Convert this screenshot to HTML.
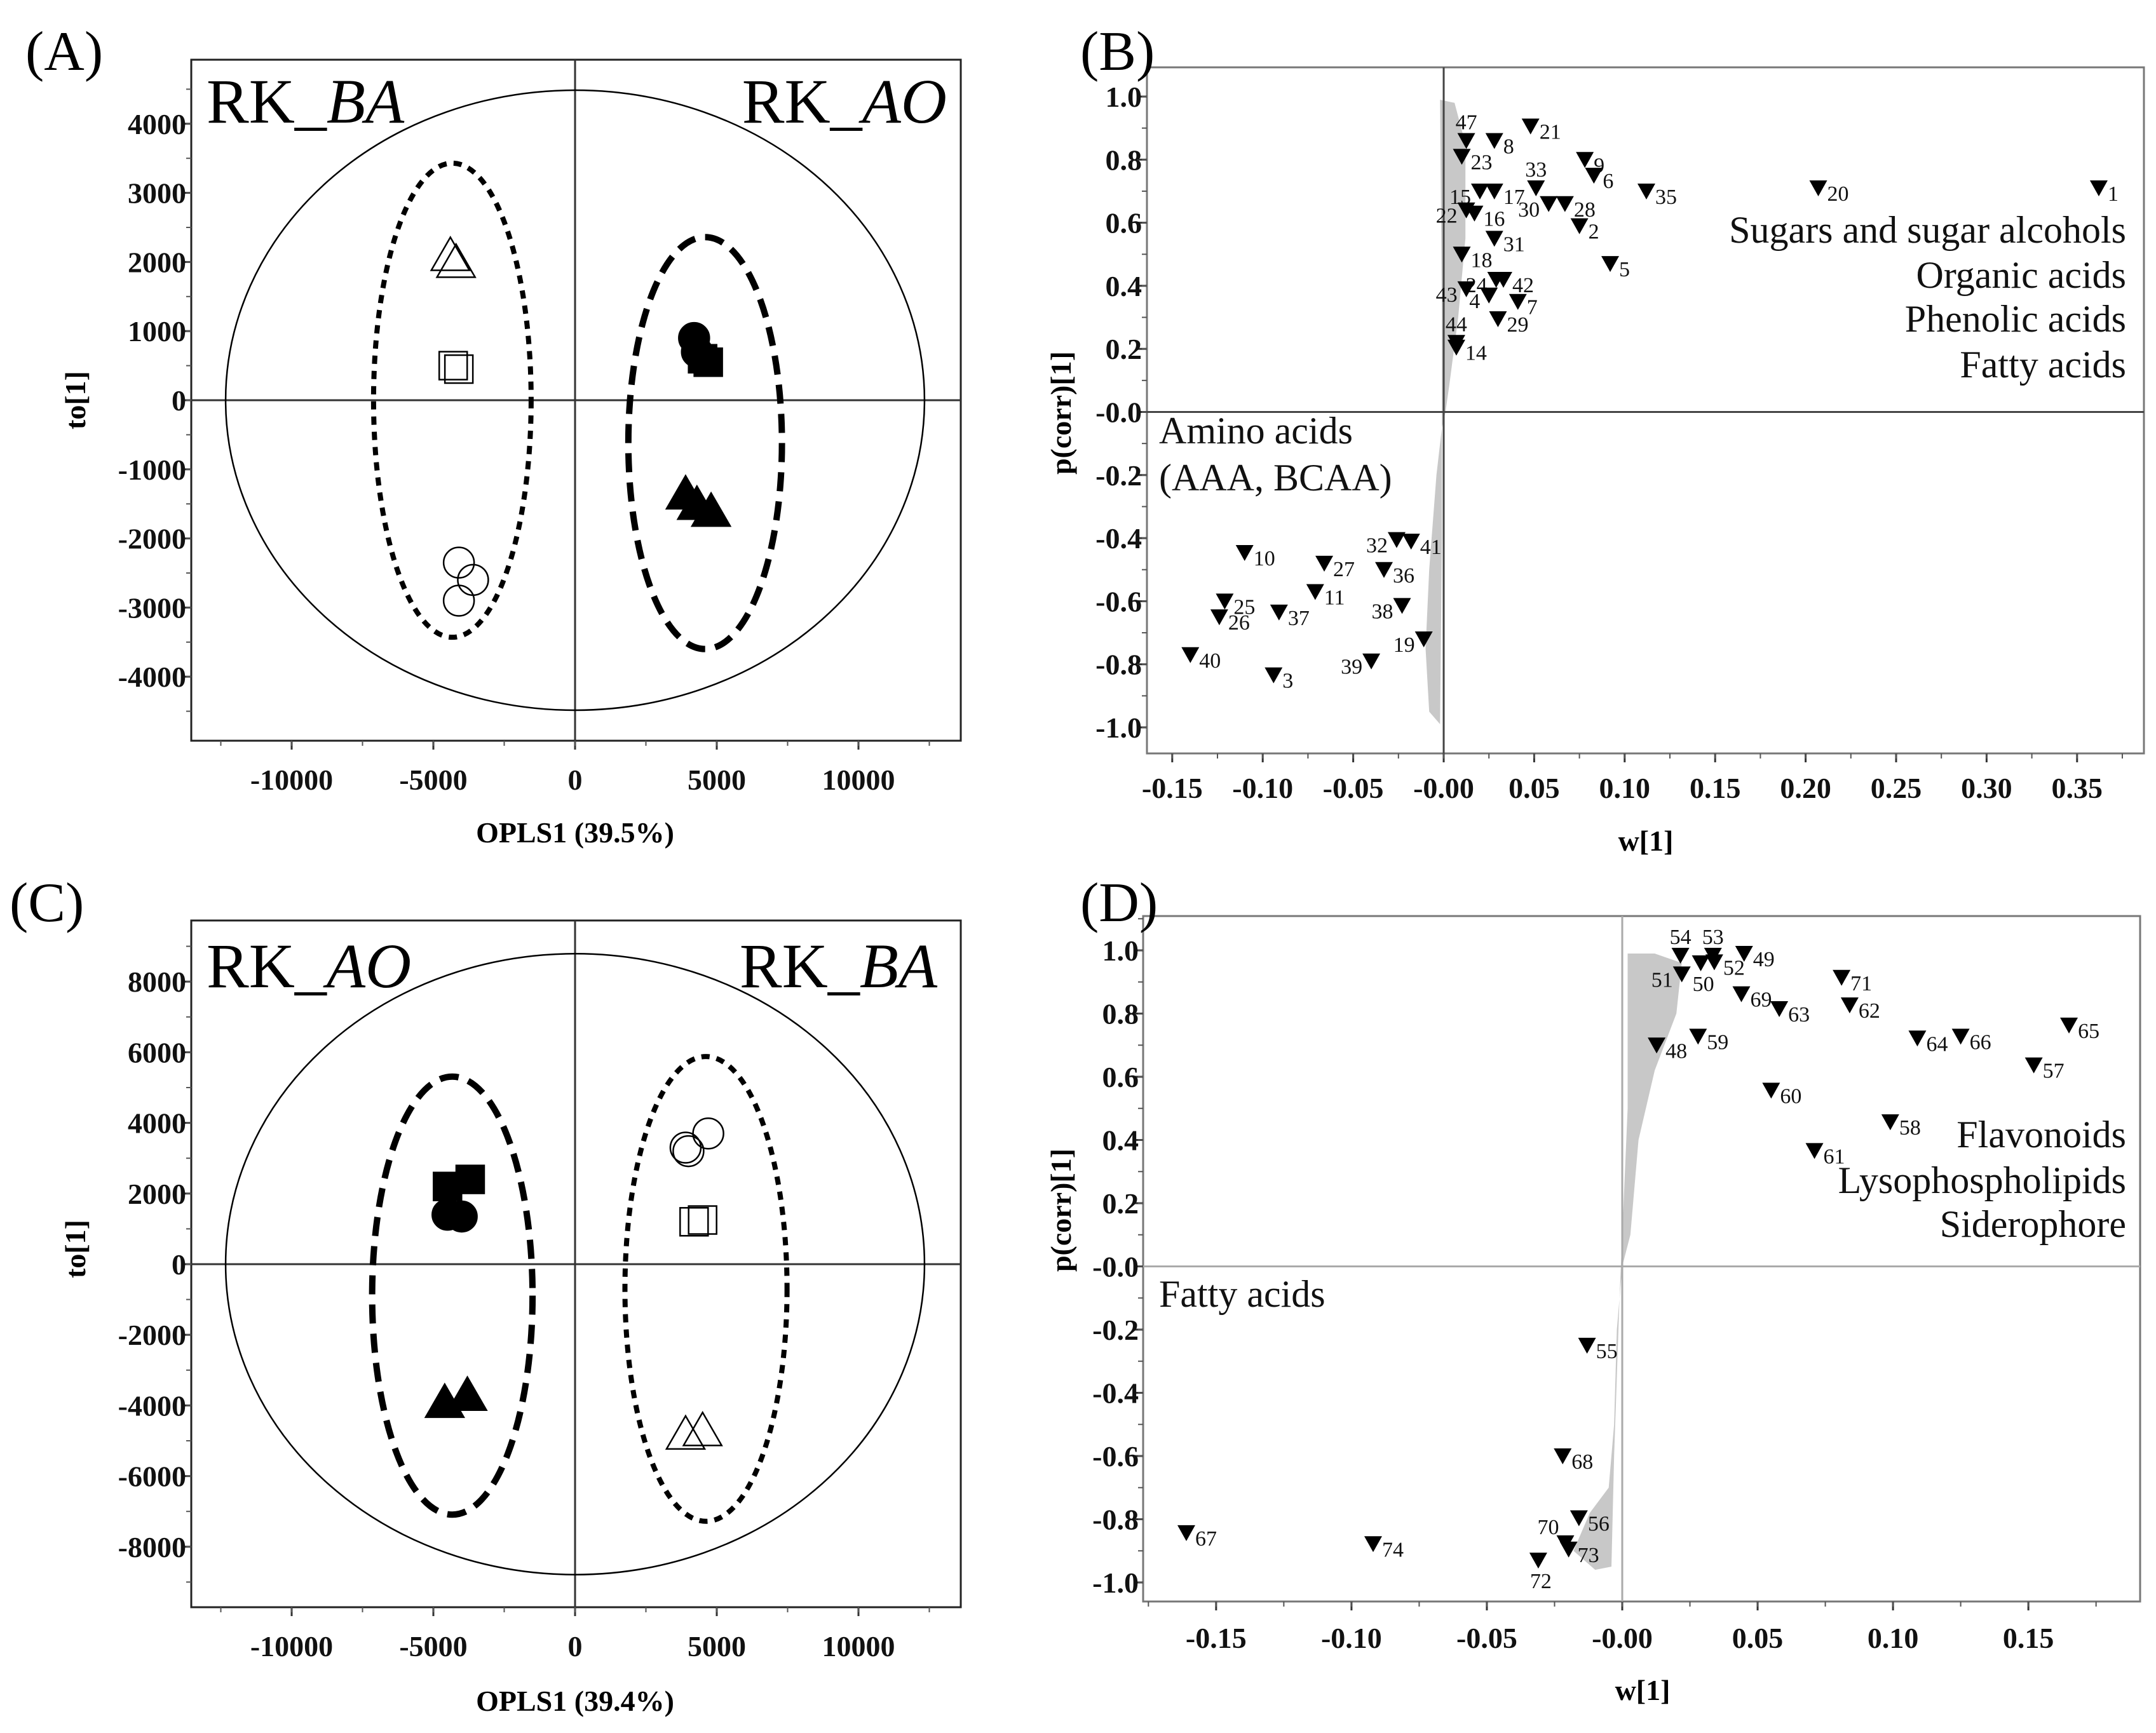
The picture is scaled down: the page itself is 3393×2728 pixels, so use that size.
<!DOCTYPE html>
<html><head><meta charset="utf-8"><style>
html,body{margin:0;padding:0;background:#fff;}
svg{display:block;font-family:"Liberation Serif",serif;}
</style></head><body>
<svg id="fig" width="3393" height="2728" viewBox="0 0 3393 2728" xmlns="http://www.w3.org/2000/svg" font-family="Liberation Serif, serif">
<rect width="3393" height="2728" fill="#fff"/>
</svg>
<script>
// ---------- Panel A data (scores) ----------
const aOpenTriX=[-4400,-4200], aOpenTriY=[2100,2000];
const aOpenSqX=[-4300,-4100], aOpenSqY=[500,450];
const aOpenCirX=[-4100,-3600,-4100], aOpenCirY=[-2350,-2600,-2900];
const aFillCirX=[4200,4300], aFillCirY=[900,700];
const aFillSqX=[4500,4700], aFillSqY=[600,550];
const aFillTriX=[3900,4300,4800], aFillTriY=[-1350,-1500,-1600];
// ---------- Panel C data ----------
const cFillSqX=[-4500,-3700], cFillSqY=[2200,2400];
const cFillCirX=[-4500,-4000], cFillCirY=[1400,1350];
const cFillTriX=[-4600,-3800], cFillTriY=[-3900,-3700];
const cOpenCirX=[3900,4700,4000], cOpenCirY=[3300,3700,3200];
const cOpenSqX=[4200,4500], cOpenSqY=[1200,1250];
const cOpenTriX=[3900,4500], cOpenTriY=[-4800,-4700];
// ---------- Panel B data (loadings) ----------
const bIds=["21","47","8","9","6","23","33","15","17","35","20","1","30","28","22","16","2","31","18","5","42","24","43","4","7","29","44","14","10","27","32","41","36","11","25","26","37","38","19","39","40","3"];
const bW=[0.048,0.0125,0.028,0.078,0.083,0.010,0.051,0.020,0.028,0.112,0.207,0.362,0.058,0.067,0.0125,0.017,0.075,0.028,0.010,0.092,0.033,0.029,0.0125,0.025,0.041,0.030,0.007,0.007,-0.110,-0.066,-0.026,-0.018,-0.033,-0.071,-0.121,-0.124,-0.091,-0.023,-0.011,-0.040,-0.140,-0.094];
const bP=[0.906,0.86,0.86,0.80,0.75,0.81,0.71,0.70,0.70,0.70,0.71,0.71,0.66,0.66,0.64,0.63,0.59,0.55,0.50,0.47,0.42,0.42,0.39,0.37,0.35,0.295,0.22,0.205,-0.446,-0.48,-0.405,-0.41,-0.50,-0.57,-0.60,-0.65,-0.635,-0.614,-0.72,-0.79,-0.77,-0.834];
const bSide=["r","u","r","r","r","r","u","l","r","r","r","r","l","r","l","r","r","r","r","r","r","l","l","l","r","r","u","r","r","r","l","r","r","r","r","r","r","l","l","l","r","r"];
// ---------- Panel D data ----------
const dIds=["54","53","49","50","52","51","71","69","63","62","64","66","65","57","59","48","60","58","61","55","68","56","70","73","72","67","74"];
const dW=[0.0215,0.0335,0.045,0.029,0.034,0.022,0.081,0.044,0.058,0.084,0.109,0.125,0.165,0.152,0.028,0.0127,0.055,0.099,0.071,-0.013,-0.022,-0.016,-0.021,-0.0198,-0.031,-0.161,-0.092];
const dP=[0.984,0.984,0.99,0.96,0.963,0.925,0.914,0.862,0.815,0.827,0.722,0.728,0.763,0.637,0.728,0.70,0.557,0.457,0.366,-0.25,-0.60,-0.796,-0.875,-0.895,-0.93,-0.843,-0.878];
const dSide=["u","u","r","d","r","l","r","r","r","r","r","r","r","r","r","r","r","r","r","r","r","r","ul","r","d","r","r"];
const tickScoreX=[-10000,-5000,0,5000,10000];
const tickAY=[-4000,-3000,-2000,-1000,0,1000,2000,3000,4000];
const tickCY=[-8000,-6000,-4000,-2000,0,2000,4000,6000,8000];
const tickBX=[-0.15,-0.10,-0.05,0,0.05,0.10,0.15,0.20,0.25,0.30,0.35];
const tickDX=[-0.15,-0.10,-0.05,0,0.05,0.10,0.15];
const tickPY=[-1.0,-0.8,-0.6,-0.4,-0.2,0,0.2,0.4,0.6,0.8,1.0];

const NS="http://www.w3.org/2000/svg";
const svg=document.getElementById('fig');
function mk(tag,attrs,parent){const e=document.createElementNS(NS,tag);for(const k in attrs)e.setAttribute(k,attrs[k]);(parent||svg).appendChild(e);return e;}
function txt(s,attrs,parent){const e=mk('text',attrs,parent);e.textContent=s;return e;}

const PA={x0:905,sx:0.0446,y0:630,sy:0.1088,L:301,T:94,R:1512,B:1166};
const PC={x0:905,sx:0.0446,y0:1990,sy:0.0556,L:301,T:1449,R:1512,B:2530};
const PB={x0:2272,sx:2848,y0:648.5,sy:496.5,L:1805,T:106,R:3374,B:1186};
const PD={x0:2553,sx:4261,y0:1993.5,sy:497.5,L:1799,T:1442,R:3368,B:2521};
function X(P,v){return P.x0+v*P.sx;}
function Y(P,v){return P.y0-v*P.sy;}

function fmtScore(v){return String(v);}
function fmtP(v){const s=Math.abs(v).toFixed(1);return (v<=0?"-":"")+s;}
function fmtW(v){const s=Math.abs(v).toFixed(2);return (v<=0?"-":"")+s;}

function frame(P,name,stroke){
  const g=mk('g',{});
  
  
  const r=mk('rect',{x:P.L,y:P.T,width:P.R-P.L,height:P.B-P.T,fill:'none',stroke:stroke,'stroke-width':3},g);
  
  
  return g;
}
function axes(P,g,xt,yt,xfmt,yfmt,xMinorStep,yMinorStep,xlblY,ylblX,xlo,xhi,ylo,yhi){
  xt.forEach(v=>{const x=X(P,v);
    const t=mk('line',{x1:x,x2:x,y1:P.B,y2:P.B+14,stroke:'#333','stroke-width':3},g);
    
    
    const l=txt(xfmt(v),{x:x,y:xlblY,'text-anchor':'middle','font-size':46,'font-weight':'bold',fill:'#111'},g);
    
    
  });
  for(let v=xlo;v<=xhi+1e-9;v+=xMinorStep){const x=X(P,v);if(x<P.L||x>P.R)continue;
    const t=mk('line',{x1:x,x2:x,y1:P.B,y2:P.B+8,stroke:'#555','stroke-width':2},g);
    
    }
  yt.forEach(v=>{const y=Y(P,v);
    const t=mk('line',{x1:P.L-14,x2:P.L,y1:y,y2:y,stroke:'#333','stroke-width':3},g);
    
    
    const l=txt(yfmt(v),{x:ylblX,y:y+16,'text-anchor':'end','font-size':46,'font-weight':'bold',fill:'#111'},g);
    
    
  });
  for(let v=ylo;v<=yhi+1e-9;v+=yMinorStep){const y=Y(P,v);if(y<P.T||y>P.B)continue;
    const t=mk('line',{x1:P.L-8,x2:P.L,y1:y,y2:y,stroke:'#555','stroke-width':2},g);
    
    }
}
function zeroLines(P,g,col){
  const h=mk('line',{x1:P.L,x2:P.R,y1:Y(P,0),y2:Y(P,0),stroke:col,'stroke-width':3},g);
  
  
  const v=mk('line',{x1:X(P,0),x2:X(P,0),y1:P.T,y2:P.B,stroke:col,'stroke-width':3},g);
  
  
}
function ellipse(P,g,cx,cy,rx,ry,dash,sw,name){
  const e=mk('ellipse',{cx:X(P,cx),cy:Y(P,cy),rx:rx*P.sx,ry:ry*P.sy,fill:'none',stroke:'#000','stroke-width':sw},g);
  if(dash)e.setAttribute('stroke-dasharray',dash);
  
  
}
function markers(P,g,xs,ys,shape,filled,name){
  xs.forEach((xv,i)=>{const x=X(P,xv),y=Y(P,ys[i]);let e;
    const fill=filled?'#000':'none';
    if(shape==='tri') e=mk('polygon',{points:`${x},${y-28} ${x-30},${y+24} ${x+30},${y+24}`,fill:fill,stroke:'#000','stroke-width':2.5},g);
    else if(shape==='sq') e=mk('rect',{x:x-22,y:y-22,width:44,height:44,fill:fill,stroke:'#000','stroke-width':2.5},g);
    else e=mk('circle',{cx:x,cy:y,r:24,fill:fill,stroke:'#000','stroke-width':2.5},g);
    
    
  });
}
function loadings(P,g,ids,ws,ps,sides,name){
  ws.forEach((wv,i)=>{const x=X(P,wv),y=Y(P,ps[i]);
    const m=mk('polygon',{points:`${x-14},${y-12} ${x+14},${y-12} ${x},${y+13}`,fill:'#000'},g);
    
    
    const s=sides[i];let lx=x+14,ly=y+20,anc='start';
    if(s==='l'){lx=x-14;anc='end';}
    else if(s==='u'){lx=x;ly=y-18;anc='middle';}
    else if(s==='d'){lx=x+4;ly=y+44;anc='middle';}
    else if(s==='ul'){lx=x-10;ly=y-14;anc='end';}
    const t=txt(ids[i],{x:lx,y:ly,'text-anchor':anc,'font-size':34,fill:'#111'},g);
    
    
  });
}
function cloud(P,g,pts,name){
  const d=pts.map((p,i)=>(i?'L':'M')+X(P,p[0]).toFixed(1)+','+Y(P,p[1]).toFixed(1)).join(' ')+'Z';
  const e=mk('path',{d:d,fill:'#c8c8c8',stroke:'none'},g);
  
  
}
function label(s,attrs,name,parent){const t=txt(s,attrs,parent);return t;}
function rk(g,x,y,anchor,ital,name){
  const t=mk('text',{x:x,y:y,'text-anchor':anchor,'font-size':100,fill:'#000'},g);
  
  
  const a=mk('tspan',{},t);a.textContent='RK_';
  const b=mk('tspan',{'font-style':'italic'},t);b.textContent=ital;
}

// ---------- Panel A ----------
(function(){
  const g=frame(PA,'panel-a','#222');
  axes(PA,g,tickScoreX,tickAY,fmtScore,fmtScore,2500,500,1243,293,-12500,12500,-4500,4500);
  zeroLines(PA,g,'#333');
  ellipse(PA,g,0,0,12330,4485,null,2.5,'hotelling-ellipse');
  ellipse(PA,g,-4330,0,2780,3430,'13 11',8,'group-ba-ellipse');
  ellipse(PA,g,4590,-620,2710,2980,'30 16',10,'group-ao-ellipse');
  markers(PA,g,aOpenTriX,aOpenTriY,'tri',false,'ba-triangle');
  markers(PA,g,aOpenSqX,aOpenSqY,'sq',false,'ba-square');
  markers(PA,g,aOpenCirX,aOpenCirY,'cir',false,'ba-circle');
  markers(PA,g,aFillCirX,aFillCirY,'cir',true,'ao-circle');
  markers(PA,g,aFillSqX,aFillSqY,'sq',true,'ao-square');
  markers(PA,g,aFillTriX,aFillTriY,'tri',true,'ao-triangle');
  rk(g,325,193,'start','BA','group-label-ba');
  rk(g,1490,193,'end','AO','group-label-ao');
  label('(A)',{x:40,y:110,'font-size':88},'panel-label-a');
  label('OPLS1 (39.5%)',{x:905,y:1326,'text-anchor':'middle','font-size':46,'font-weight':'bold'},'x-axis-title-a');
  label('to[1]',{x:0,y:0,'text-anchor':'middle','font-size':46,'font-weight':'bold',transform:'translate(134,630) rotate(-90)'},'y-axis-title-a');
})();
// ---------- Panel C ----------
(function(){
  const g=frame(PC,'panel-c','#222');
  axes(PC,g,tickScoreX,tickCY,fmtScore,fmtScore,2500,1000,2607,293,-12500,12500,-9000,9000);
  zeroLines(PC,g,'#333');
  ellipse(PC,g,0,0,12330,8790,null,2.5,'hotelling-ellipse');
  ellipse(PC,g,-4330,-890,2830,6200,'30 16',10,'group-ao-ellipse');
  ellipse(PC,g,4620,-700,2860,6580,'13 11',8,'group-ba-ellipse');
  markers(PC,g,cFillSqX,cFillSqY,'sq',true,'ao-square');
  markers(PC,g,cFillCirX,cFillCirY,'cir',true,'ao-circle');
  markers(PC,g,cFillTriX,cFillTriY,'tri',true,'ao-triangle');
  markers(PC,g,cOpenCirX,cOpenCirY,'cir',false,'ba-circle');
  markers(PC,g,cOpenSqX,cOpenSqY,'sq',false,'ba-square');
  markers(PC,g,cOpenTriX,cOpenTriY,'tri',false,'ba-triangle');
  rk(g,325,1554,'start','AO','group-label-ao');
  rk(g,1475,1554,'end','BA','group-label-ba');
  label('(C)',{x:15,y:1450,'font-size':88},'panel-label-c');
  label('OPLS1 (39.4%)',{x:905,y:2693,'text-anchor':'middle','font-size':46,'font-weight':'bold'},'x-axis-title-c');
  label('to[1]',{x:0,y:0,'text-anchor':'middle','font-size':46,'font-weight':'bold',transform:'translate(134,1966) rotate(-90)'},'y-axis-title-c');
})();
// ---------- Panel B ----------
(function(){
  const g=frame(PB,'panel-b','#777');
  cloud(PB,g,[[-0.002,0.99],[0.006,0.98],[0.012,0.85],[0.012,0.55],[0.008,0.3],[0.003,0.08],[0.001,0],[-0.001,-0.05],[-0.004,-0.2],[-0.008,-0.5],[-0.01,-0.75],[-0.008,-0.95],[-0.002,-0.99],[-0.001,-0.4],[-0.001,0.3]],'variable-cloud');
  zeroLines(PB,g,'#444');
  axes(PB,g,tickBX,tickPY,fmtW,fmtP,0.025,0.1,1256,1797,-0.175,0.40,-1.1,1.1);
  loadings(PB,g,bIds,bW,bP,bSide,'metabolite');
  const f={'font-size':60,fill:'#111','text-anchor':'end'};
  label('Sugars and sugar alcohols',Object.assign({x:3346,y:382},f),'class-label',g);
  label('Organic acids',Object.assign({x:3346,y:453},f),'class-label',g);
  label('Phenolic acids',Object.assign({x:3346,y:522},f),'class-label',g);
  label('Fatty acids',Object.assign({x:3346,y:594},f),'class-label',g);
  label('Amino acids',{x:1824,y:698,'font-size':60,fill:'#111'},'class-label',g);
  label('(AAA, BCAA)',{x:1824,y:772,'font-size':60,fill:'#111'},'class-label',g);
  label('(B)',{x:1700,y:110,'font-size':88},'panel-label-b');
  label('w[1]',{x:2590,y:1339,'text-anchor':'middle','font-size':46,'font-weight':'bold'},'x-axis-title-b');
  label('p(corr)[1]',{x:0,y:0,'text-anchor':'middle','font-size':46,'font-weight':'bold',transform:'translate(1685,650) rotate(-90)'},'y-axis-title-b');
})();
// ---------- Panel D ----------
(function(){
  const g=frame(PD,'panel-d','#777');
  cloud(PD,g,[[0.002,0.99],[0.012,0.99],[0.022,0.96],[0.02,0.8],[0.012,0.62],[0.006,0.4],[0.003,0.1],[0.0,0],[-0.002,-0.2],[-0.003,-0.5],[-0.005,-0.7],[-0.012,-0.78],[-0.018,-0.9],[-0.01,-0.96],[-0.004,-0.95],[-0.003,-0.6],[-0.002,-0.35],[-0.001,-0.1],[0.0,0.1],[0.002,0.5],[0.002,0.8]],'variable-cloud');
  zeroLines(PD,g,'#aaa');
  axes(PD,g,tickDX,tickPY,fmtW,fmtP,0.025,0.1,2594,1792,-0.175,0.20,-1.1,1.1);
  loadings(PD,g,dIds,dW,dP,dSide,'metabolite');
  const f={'font-size':60,fill:'#111','text-anchor':'end'};
  label('Flavonoids',Object.assign({x:3346,y:1806},f),'class-label',g);
  label('Lysophospholipids',Object.assign({x:3346,y:1878},f),'class-label',g);
  label('Siderophore',Object.assign({x:3346,y:1947},f),'class-label',g);
  label('Fatty acids',{x:1824,y:2057,'font-size':60,fill:'#111'},'class-label',g);
  label('(D)',{x:1700,y:1450,'font-size':88},'panel-label-d');
  label('w[1]',{x:2585,y:2676,'text-anchor':'middle','font-size':46,'font-weight':'bold'},'x-axis-title-d');
  label('p(corr)[1]',{x:0,y:0,'text-anchor':'middle','font-size':46,'font-weight':'bold',transform:'translate(1685,1905) rotate(-90)'},'y-axis-title-d');
})();
</script>
</body></html>
